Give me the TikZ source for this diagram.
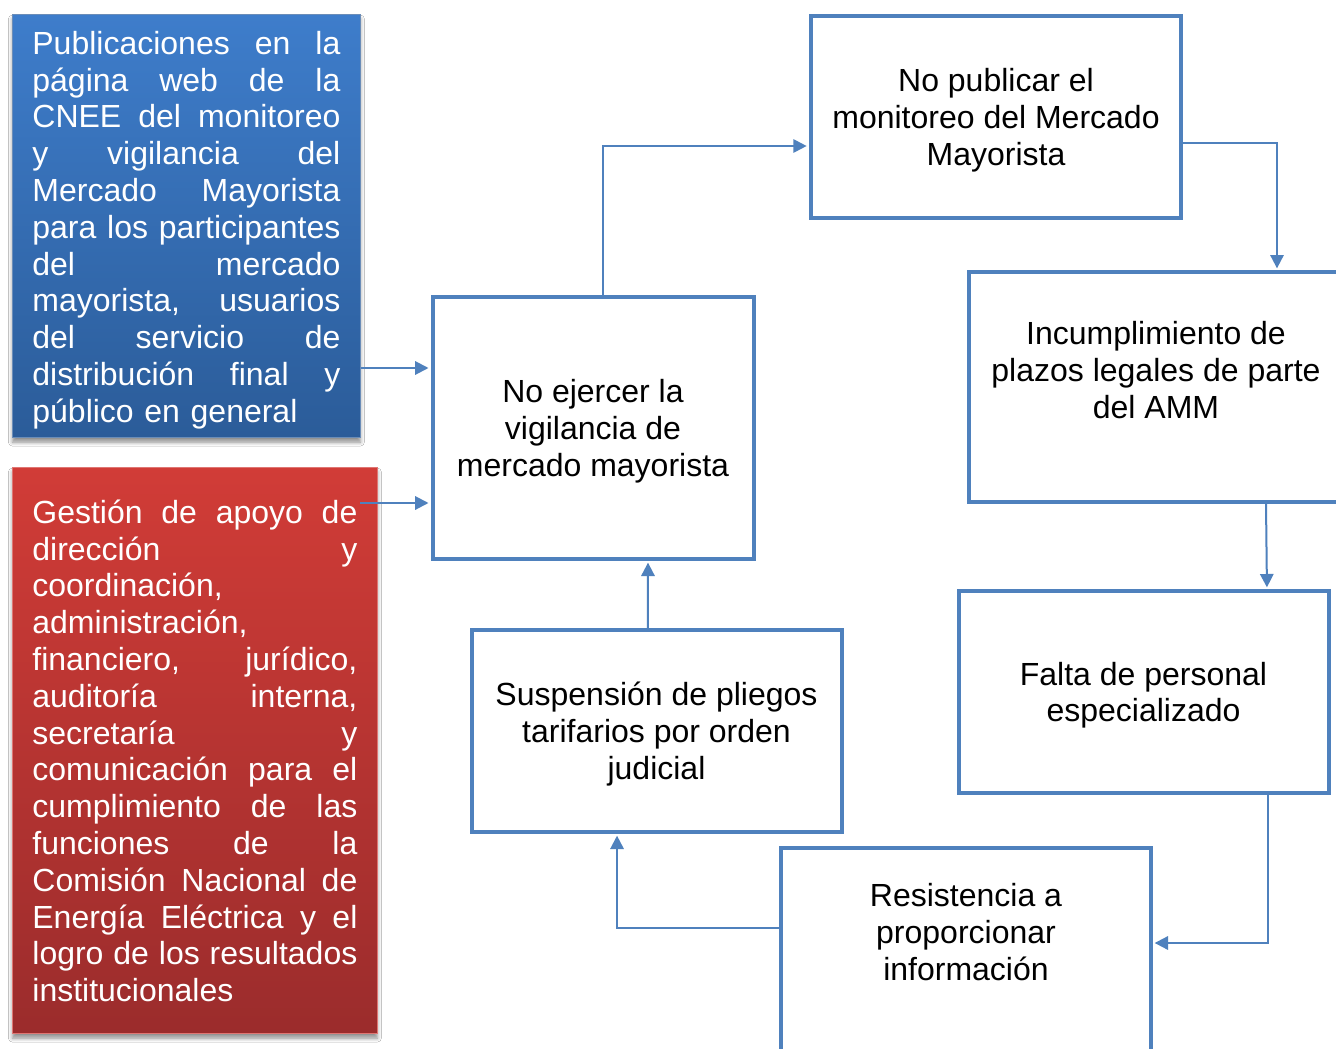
\documentclass[tikz,border=0pt]{standalone}
\usepackage{fontspec}
\setmainfont{Liberation Sans}
\usepackage{xcolor}
\usetikzlibrary{arrows.meta,shadows.blur}
\definecolor{lineablue}{HTML}{4F81BD}
\definecolor{azularriba}{HTML}{3E7DCB}
\definecolor{azulabajo}{HTML}{2B5C99}
\definecolor{rojoarriba}{HTML}{D13C37}
\definecolor{rojoabajo}{HTML}{9B2C2C}
\tikzset{
  tbox/.style={draw=lineablue, line width=3pt, align=center, font=\fontsize{24pt}{27.6pt}\selectfont, inner sep=0pt, text depth=0pt},
  btext/.style={align=center, font=\fontsize{24pt}{27.6pt}\selectfont},
  sbox/.style={text=white, align=left, font=\fontsize{24pt}{27.6pt}\selectfont, inner xsep=15pt, anchor=north west, line width=0.6pt, text height=23.5pt,
    blur shadow={shadow xshift=0pt, shadow yshift=-3.5pt, shadow opacity=45, shadow blur radius=3pt}},
  farr/.style={-{Triangle[length=10pt,width=10pt]}, draw=lineablue, line width=1.5pt, shorten >=1.5pt}
}
\begin{document}
\begin{tikzpicture}[x=0.75pt, y=-0.75pt]
\useasboundingbox (0,0) rectangle (1336,1049);
\fill[white] (0,0) rectangle (1336,1049);
\clip (0,0) rectangle (1336,1049);
% cajas de la izquierda
\node[sbox, top color=azularriba, bottom color=azulabajo, draw=azulabajo!70!white, text width=231pt, minimum height=317.25pt] (pub) at (12,14)
  {Publicaciones\hfill en\hfill la\\ página\hfill web\hfill de\hfill la\\ CNEE\hfill del\hfill monitoreo\\ y\hfill vigilancia\hfill del\\
   Mercado\hfill Mayorista\\ para\hfill los\hfill participantes\\ del\hfill mercado\\ mayorista,\hfill usuarios\\
   del\hfill servicio\hfill de\\ distribución\hfill final\hfill y\\ público en general};
\node[sbox, top color=rojoarriba, bottom color=rojoabajo, draw=rojoarriba!70!white, text width=243.75pt, minimum height=424.5pt, text height=18.5pt] (ges) at (12,467)
  {Gestión\hfill de\hfill apoyo\hfill de\\ dirección\hfill y\\ coordinación,\\ administración,\\ financiero,\hfill jurídico,\\
   auditoría\hfill interna,\\ secretaría\hfill y\\ comunicación\hfill para\hfill el\\ cumplimiento\hfill de\hfill las\\
   funciones\hfill de\hfill la\\ Comisión\hfill Nacional\hfill de\\ Energía\hfill Eléctrica\hfill y\hfill el\\
   logro\hfill de\hfill los\hfill resultados\\ institucionales};
% causas
\node[tbox, minimum width=240.75pt, minimum height=196pt] (noej) at (593,428) {No ejercer la\\ vigilancia de\\ mercado mayorista};
\node[tbox, minimum width=278pt, minimum height=152pt] (nopub) at (996,117) {No publicar el\\ monitoreo del Mercado\\ Mayorista};
\node[tbox, minimum width=280pt, minimum height=172pt, label={[btext, yshift=12.75pt]center:Incumplimiento de\\ plazos legales de parte\\ del AMM}] (inc) at (1156,387) {};
\node[tbox, minimum width=277.5pt, minimum height=151pt] (falta) at (1143.5,692) {Falta de personal\\ especializado};
\node[tbox, minimum width=277pt, minimum height=195pt, label={[btext, yshift=34.5pt]center:Resistencia a\\ proporcionar\\ información}] (res) at (966,978) {};
\node[tbox, minimum width=277.5pt, minimum height=151pt] (susp) at (656.5,731) {Suspensión de pliegos\\ tarifarios por orden\\ judicial};
% flechas
\coordinate (gsal) at (360,503);
\draw[farr] (pub.east |- 0,368) -- (noej.west |- 0,368);
\draw[farr] (gsal) -- (noej.west |- gsal);
\draw[farr] ([xshift=7.5pt]noej.north) |- ([yshift=-21.75pt]nopub.west);
\draw[farr] ([yshift=-19.5pt]nopub.east) -| ([xshift=90.75pt]inc.north);
\draw[farr] ([xshift=82.5pt]inc.south) -- ([xshift=92.6pt]falta.north);
\draw[farr] ([xshift=93.4pt]falta.south) |- ([yshift=26.25pt]res.east);
\draw[farr] ([yshift=37.5pt]res.west) -| ([xshift=-29.6pt]susp.south);
\draw[farr] ([xshift=-6.4pt]susp.north) -- ([xshift=41.25pt]noej.south);
\end{tikzpicture}
\end{document}
